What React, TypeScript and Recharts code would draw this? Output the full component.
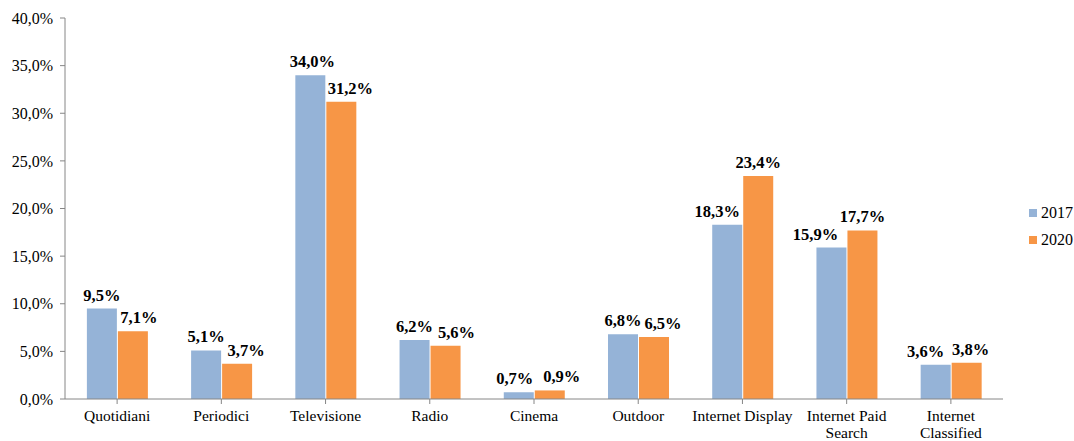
import { BarChart, Bar, XAxis, YAxis, LabelList } from "recharts"

const categories = [
  "Quotidiani",
  "Periodici",
  "Televisione",
  "Radio",
  "Cinema",
  "Outdoor",
  "Internet Display",
  "Internet Paid Search",
  "Internet Classified",
]
const values2017 = [9.5, 5.1, 34.0, 6.2, 0.7, 6.8, 18.3, 15.9, 3.6]
const values2020 = [7.1, 3.7, 31.2, 5.6, 0.9, 6.5, 23.4, 17.7, 3.8]
const yTicks = [0, 5, 10, 15, 20, 25, 30, 35, 40]
const tickLines: Record<string, string[]> = {
  "Internet Paid Search": ["Internet Paid", "Search"],
  "Internet Classified": ["Internet", "Classified"],
}
const seriesNames = ["2017", "2020"]
const seriesColors = ["#95B3D7", "#F79646"]

// horizontal nudges of the data labels (Excel moves them apart)
const shift2017 = [0, 0, 2, 0, -4, 0, -10, -16, -10]
const shift2020 = [6, 9, 9, 11, 12, 9, 0, 0, 4]

const data = categories.map((name, i) => ({
  name,
  y2017: values2017[i],
  y2020: values2020[i],
}))

const FONT = "Liberation Serif, Times New Roman, serif"
const AXIS = "#868686"
const fmt = (v: number) => v.toFixed(1).replace(".", ",") + "%"

function XTick({ x, y, payload }: any) {
  const lines = tickLines[payload.value] ?? [payload.value]
  return (
    <text x={x} y={y} textAnchor="middle" style={{ fontFamily: FONT }} fontSize={15.5} fill="#000">
      {lines.map((l, i) => (
        <tspan key={i} x={x} dy={i === 0 ? 15 : 17}>
          {l}
        </tspan>
      ))}
    </text>
  )
}

const makeLabel = (shifts: number[]) => (props: any) => {
  const { x, y, width, value, index } = props
  const dx = shifts[index] ?? 0
  return (
    <text
      x={Number(x) + Number(width) / 2 + dx}
      y={Number(y) - 8}
      textAnchor="middle"
      style={{ fontFamily: FONT }}
      fontSize={16.5}
      fontWeight="bold"
      fill="#000"
    >
      {fmt(Number(value))}
    </text>
  )
}

export default function App() {
  return (
    <div style={{ position: "absolute", left: 0, top: 0, width: 1074, height: 441, background: "#fff", fontFamily: FONT }}>
      <BarChart
        width={1074}
        height={441}
        data={data}
        margin={{ top: 18, right: 71, bottom: 0, left: 0 }}
        barCategoryGap="21%"
        barGap={1}
        style={{ fontFamily: FONT }}
      >
        <XAxis
          dataKey="name"
          tick={<XTick />}
          tickLine={{ stroke: AXIS }}
          axisLine={{ stroke: AXIS }}
          stroke={AXIS}
          interval={0}
          tickSize={5}
          height={42}
        />
        <YAxis
          width={65}
          domain={[0, 40]}
          ticks={yTicks}
          tickFormatter={fmt}
          tick={{ style: { fontFamily: FONT }, fontSize: 16, fill: "#000" }}
          tickLine={{ stroke: AXIS }}
          axisLine={{ stroke: AXIS }}
          tickSize={5}
          tickMargin={7}
          interval={0}
        />
        <Bar dataKey="y2017" name="2017" fill={seriesColors[0]} isAnimationActive={false}>
          <LabelList dataKey="y2017" content={makeLabel(shift2017)} />
        </Bar>
        <Bar dataKey="y2020" name="2020" fill={seriesColors[1]} isAnimationActive={false}>
          <LabelList dataKey="y2020" content={makeLabel(shift2020)} />
        </Bar>
      </BarChart>
      <div style={{ position: "absolute", left: 1029, top: 199, fontSize: 16 }}>
        {seriesNames.map((s, i) => (
          <div key={s} style={{ display: "flex", alignItems: "center", height: 27 }}>
            <span style={{ width: 8, height: 8, background: seriesColors[i], marginRight: 4 }} />
            <span>{s}</span>
          </div>
        ))}
      </div>
    </div>
  )
}
